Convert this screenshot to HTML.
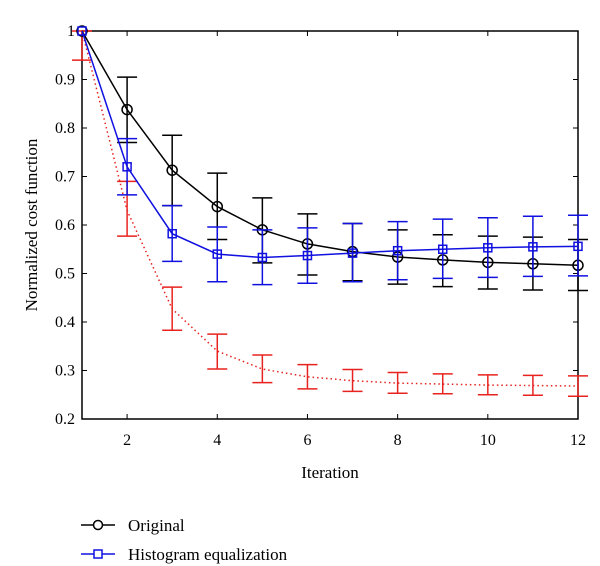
<!DOCTYPE html>
<html><head><meta charset="utf-8"><style>
body{margin:0;background:#fff}
svg{display:block;font-family:"Liberation Serif",serif}
</style></head><body>
<svg id="c" width="600" height="566"></svg>
<script>
const iterations=[1,2,3,4,5,6,7,8,9,10,11,12];
const originalVals=[1,.838,.713,.638,.59,.561,.545,.534,.528,.523,.520,.517];
const originalLo=[1,.77,.64,.57,.522,.497,.485,.478,.473,.468,.466,.465];
const originalHi=[1,.905,.785,.707,.656,.623,.603,.59,.58,.577,.575,.57];
const histVals=[1,.72,.582,.54,.533,.537,.542,.547,.55,.553,.555,.556];
const histLo=[1,.662,.525,.483,.477,.48,.483,.487,.49,.492,.494,.495];
const histHi=[1,.778,.64,.596,.59,.594,.603,.607,.612,.615,.618,.62];
const redVals=[1,.63,.427,.34,.303,.287,.279,.274,.272,.27,.269,.268];
const redLo=[.94,.577,.383,.303,.275,.262,.257,.253,.252,.25,.249,.247];
const redHi=[1,.69,.472,.375,.332,.312,.302,.296,.293,.291,.29,.289];
const xTicks=[2,4,6,8,10,12];
const yTicks=[0.2,0.3,0.4,0.5,0.6,0.7,0.8,0.9,1];
const yTickLabels=["0.2","0.3","0.4","0.5","0.6","0.7","0.8","0.9","1"];

const L=82,R=578,T=31,B=419;
const X=v=>L+(v-1)*(R-L)/11;
const Y=v=>B-(v-0.2)*(B-T)/0.8;
const svg=document.getElementById('c');
const NS='http://www.w3.org/2000/svg';
function mk(tag,a,parent){const e=document.createElementNS(NS,tag);for(const k in a)e.setAttribute(k,a[k]);(parent||svg).appendChild(e);return e;}

let e;
e=mk('rect',{x:L,y:T,width:R-L,height:B-T,fill:'none',stroke:'#000','stroke-width':1.5});

xTicks.forEach(t=>{
  mk('line',{x1:X(t),x2:X(t),y1:B,y2:B-5,stroke:'#000'});
  mk('line',{x1:X(t),x2:X(t),y1:T,y2:T+5,stroke:'#000'});
  e=mk('text',{x:X(t),y:B+26,'text-anchor':'middle','font-size':16});e.textContent=t;
  
});
yTicks.forEach((t,i)=>{
  mk('line',{x1:L,x2:L+5,y1:Y(t),y2:Y(t),stroke:'#000'});
  mk('line',{x1:R,x2:R-5,y1:Y(t),y2:Y(t),stroke:'#000'});
  e=mk('text',{x:L-7,y:Y(t)+5,'text-anchor':'end','font-size':16});e.textContent=yTickLabels[i];
  
});
e=mk('text',{x:(L+R)/2,y:B+59,'text-anchor':'middle','font-size':17});e.textContent='Iteration';

e=mk('text',{x:0,y:0,'text-anchor':'middle','font-size':17,transform:`translate(37,${(T+B)/2}) rotate(-90)`});e.textContent='Normalized cost function';


function series(vals,lo,hi,color,name,dash,marker){
  const g=mk('g',{});
  
  vals.forEach((v,i)=>{
    const x=X(iterations[i]);
    if(lo[i]!==hi[i]){
      mk('line',{x1:x,x2:x,y1:Y(lo[i]),y2:Y(hi[i]),stroke:color,'stroke-width':1.5},g);
      mk('line',{x1:x-10,x2:x+10,y1:Y(lo[i]),y2:Y(lo[i]),stroke:color,'stroke-width':1.5},g);
      mk('line',{x1:x-10,x2:x+10,y1:Y(hi[i]),y2:Y(hi[i]),stroke:color,'stroke-width':1.5},g);
    }
  });
  const p=mk('polyline',{points:vals.map((v,i)=>X(iterations[i])+','+Y(v)).join(' '),fill:'none',stroke:color,'stroke-width':1.5,'stroke-dasharray':dash||'none'},g);
  
  vals.forEach((v,i)=>{
    const x=X(iterations[i]),y=Y(v);let m;
    if(marker==='circle')m=mk('circle',{cx:x,cy:y,r:5,fill:'none',stroke:color,'stroke-width':1.5},g);
    else if(marker==='square')m=mk('rect',{x:x-4,y:y-4,width:8,height:8,fill:'none',stroke:color,'stroke-width':1.5},g);
    if(m){}
  });
}
series(redVals,redLo,redHi,'#e8231f','red-dotted','1.5,3',null);
series(originalVals,originalLo,originalHi,'#000','original',null,'circle');
series(histVals,histLo,histHi,'#1010e0','histogram-equalization',null,'square');

function legend(y,color,label,marker,name){
  const g=mk('g',{});
  mk('line',{x1:81,x2:115,y1:y,y2:y,stroke:color,'stroke-width':1.5},g);
  if(marker==='circle')mk('circle',{cx:98,cy:y,r:4.5,fill:'#fff',stroke:color,'stroke-width':1.5},g);
  else mk('rect',{x:94,y:y-4,width:8,height:8,fill:'#fff',stroke:color,'stroke-width':1.5},g);
  const t=mk('text',{x:128,y:y+6,'font-size':17},g);t.textContent=label;
}
legend(525,'#000','Original','circle','legend-original');
legend(554,'#1010e0','Histogram equalization','square','legend-histogram');
</script>
</body></html>
